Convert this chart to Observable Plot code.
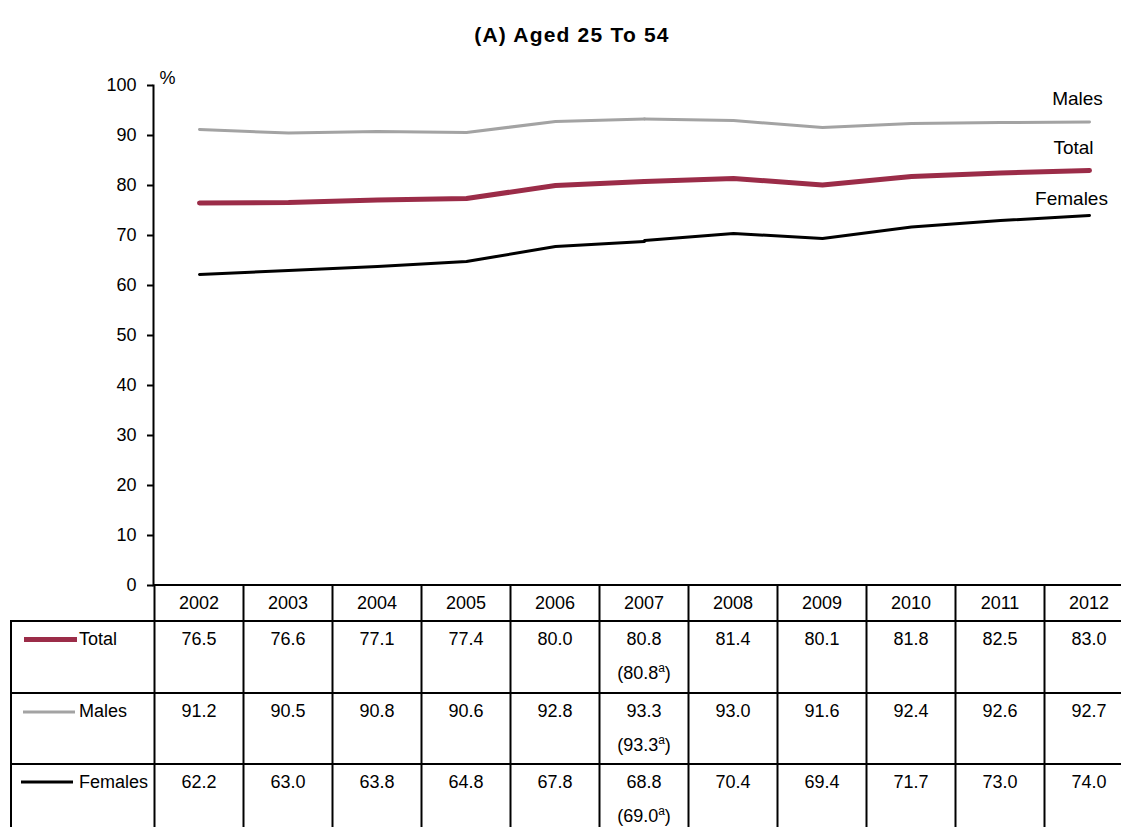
<!DOCTYPE html>
<html>
<head>
<meta charset="utf-8">
<script src="https://cdn.jsdelivr.net/npm/d3@7"></script>
<script src="https://cdn.jsdelivr.net/npm/@observablehq/plot@0.6"></script>
<style>
  html, body { margin: 0; padding: 0; background: white; overflow: hidden; }
  #wrap { width: 1121px; height: 827px; overflow: hidden; position: relative; font-family: "Liberation Sans", Arial, sans-serif; }
  #title { height: 60px; box-sizing: border-box; padding-top: 24px; padding-left: 23px; text-align: center;
           font: bold 21px/21px "Liberation Sans", Arial, sans-serif; letter-spacing: 1.2px; color: #000; }
</style>
</head>
<body>
<div id="wrap">
  <div id="title">(A) Aged 25 To 54</div>
  <div id="chart"></div>
</div>
<script>
// ---- data ----
const years = [2002, 2003, 2004, 2005, 2006, 2007, 2008, 2009, 2010, 2011, 2012];
const total   = [76.5, 76.6, 77.1, 77.4, 80.0, 80.8, 81.4, 80.1, 81.8, 82.5, 83.0];
const males   = [91.2, 90.5, 90.8, 90.6, 92.8, 93.3, 93.0, 91.6, 92.4, 92.6, 92.7];
const females = [62.2, 63.0, 63.8, 64.8, 67.8, 68.8, 70.4, 69.4, 71.7, 73.0, 74.0];
const seriesNames = ["Total", "Males", "Females"];
const revised2007 = [80.8, 93.3, 69.0];   // figures marked (a) for 2007
const breakYear = 2007;
const yTicks = [0, 10, 20, 30, 40, 50, 60, 70, 80, 90, 100];

// ---- styles ----
const seriesValues = [total, males, females];
const colors = ["#9B2C48", "#A3A3A3", "#000000"];
const widths = [5, 3, 3];
const labelDx = [-16, -12, -18];
const labelDy = [-17, -17.5, -10.7];
const FONT = '"Liberation Sans", Arial, sans-serif';

// build segmented rows (break in series at 2007)
const rows = [];
const bi = years.indexOf(breakYear);
seriesNames.forEach((name, s) => {
  years.forEach((yr, i) => {
    if (i <= bi) rows.push({series: name, seg: name + "-a", year: yr, value: seriesValues[s][i]});
    if (i === bi) rows.push({series: name, seg: name + "-b", year: yr, value: revised2007[s]});
    if (i > bi) rows.push({series: name, seg: name + "-b", year: yr, value: seriesValues[s][i]});
  });
});

const OFF = 60;          // svg starts below the title block
const W = 1121, H = 767;

const lineMarks = seriesNames.slice().reverse().map(name => {
  const s = seriesNames.indexOf(name);
  return Plot.line(rows.filter(d => d.series === name), {
    x: "year", y: "value", z: "seg", stroke: colors[s], strokeWidth: widths[s],
    strokeLinecap: "round", strokeLinejoin: "round", curve: "linear"
  });
});
const labelMarks = seriesNames.map((name, s) => Plot.text(
  [{year: years[years.length - 1], value: seriesValues[s][years.length - 1], name}],
  {x: "year", y: "value", text: "name", dx: labelDx[s], dy: labelDy[s], fontSize: 19,
   textAnchor: "middle", lineAnchor: "bottom", fill: "#000"}
));

const plot = Plot.plot({
  width: W, height: H,
  marginTop: 25, marginBottom: 242, marginLeft: 153, marginRight: 0,
  x: {type: "point", domain: years, padding: 0.5, range: [153, 1134], axis: null},
  y: {domain: [0, 100], axis: null},
  style: {fontFamily: FONT, fontSize: "18px", color: "#000", background: "white"},
  marks: [
    Plot.axisY({ticks: yTicks, tickSize: 6, tickPadding: 11, strokeWidth: 2, label: null, fontSize: 18, tickFormat: d => String(d)}),
    Plot.frame({anchor: "left", strokeWidth: 2, stroke: "#000"}),
    Plot.text(["%"], {frameAnchor: "top-left", dx: 6, dy: -14, textAnchor: "start", fontSize: 18, fill: "#000"}),
    ...lineMarks,
    ...labelMarks
  ]
});
document.getElementById("chart").appendChild(plot);

// ---- data table drawn below the chart, aligned to the Plot x scale ----
const xs = plot.scale("x");
const xPos = v => xs.apply(v);
const step = xPos(years[1]) - xPos(years[0]);
const colLeft = i => xPos(years[i]) - step / 2;
const svg = d3.select(plot);
const g = svg.append("g").attr("class", "datatable").attr("font-family", FONT).attr("font-size", 18).attr("fill", "#000");

const yAxisBottom = 585 - OFF;
const rowTops = [621 - OFF, 693 - OFF, 764 - OFF];
const tableLeft = 11;

const hl = (x1, x2, y) => g.append("line").attr("x1", x1).attr("x2", x2).attr("y1", y).attr("y2", y).attr("stroke", "#000").attr("stroke-width", 2);
const vl = (x, y1, y2) => g.append("line").attr("x1", x).attr("x2", x).attr("y1", y1).attr("y2", y2).attr("stroke", "#000").attr("stroke-width", 2);

hl(colLeft(0) - 1, W, yAxisBottom);
rowTops.forEach(t => hl(tableLeft - 1, W, t));
vl(tableLeft, rowTops[0] - 1, H);
years.forEach((yr, i) => vl(colLeft(i), yAxisBottom - 1, H));

// header
years.forEach(yr => g.append("text").attr("x", xPos(yr)).attr("y", yAxisBottom + 24).attr("text-anchor", "middle").text(yr));

// legend swatches + names
const swatch = [
  {x1: 24, x2: 77, dy: -5.5},
  {x1: 23, x2: 75, dy: -5},
  {x1: 21, x2: 73, dy: -6}
];
seriesNames.forEach((name, s) => {
  const base = rowTops[s] + 24;
  g.append("line").attr("x1", swatch[s].x1).attr("x2", swatch[s].x2)
    .attr("y1", base + swatch[s].dy).attr("y2", base + swatch[s].dy)
    .attr("stroke", colors[s]).attr("stroke-width", widths[s]);
  g.append("text").attr("x", 79).attr("y", base).attr("text-anchor", "start").text(name);
  years.forEach((yr, i) => {
    g.append("text").attr("x", xPos(yr)).attr("y", base).attr("text-anchor", "middle")
      .text(seriesValues[s][i].toFixed(1));
    if (yr === breakYear) {
      const t = g.append("text").attr("x", xPos(yr)).attr("y", base + 34).attr("text-anchor", "middle");
      t.append("tspan").text("(" + revised2007[s].toFixed(1));
      t.append("tspan").attr("font-size", 12).attr("dy", -7).text("a");
      t.append("tspan").attr("dy", 7).text(")");
    }
  });
});
</script>
</body>
</html>
